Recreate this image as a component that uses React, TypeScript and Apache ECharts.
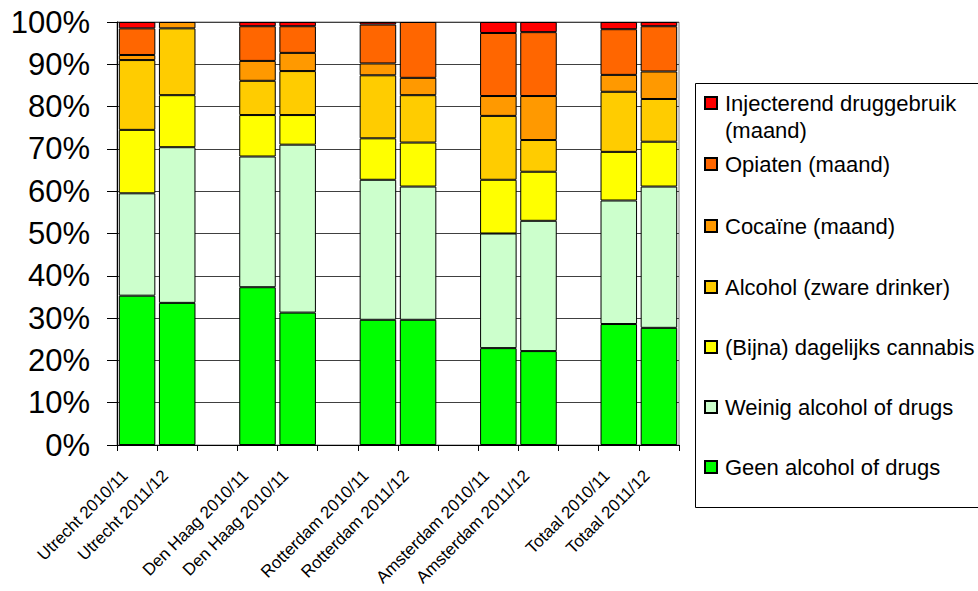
import React, { useEffect, useRef } from "react";
import * as echarts from "echarts";

const categories = [
  "Utrecht 2010/11", "Utrecht 2011/12", "",
  "Den Haag 2010/11", "Den Haag 2010/11", "",
  "Rotterdam 2010/11", "Rotterdam 2011/12", "",
  "Amsterdam 2010/11", "Amsterdam 2011/12", "",
  "Totaal 2010/11", "Totaal 2011/12",
];

const geen = [35.3, 33.6, null, 37.3, 31.3, null, 29.6, 29.6, null, 22.9, 22.2, null, 28.6, 27.7];
const weinig = [24.2, 36.8, null, 30.9, 39.7, null, 33.1, 31.5, null, 27.1, 30.8, null, 29.2, 33.4];
const cannabis = [15.0, 12.3, null, 9.8, 7.0, null, 9.8, 10.4, null, 12.7, 11.6, null, 11.5, 10.6];
const alcohol = [16.5, 15.8, null, 8.1, 10.4, null, 14.9, 11.2, null, 15.1, 7.5, null, 14.2, 10.1];
const cocaine = [1.2, 1.5, null, 4.7, 4.3, null, 2.8, 4.1, null, 4.7, 10.4, null, 4.0, 6.5];
const opiaten = [6.3, null, null, 8.2, 6.3, null, 9.2, 13.2, null, 14.9, 15.1, null, 10.8, 10.7];
const inject = [1.5, null, null, 1.0, 1.0, null, 0.6, null, null, 2.6, 2.4, null, 1.7, 1.0];

const seriesNames = [
  "Geen alcohol of drugs",
  "Weinig alcohol of drugs",
  "(Bijna) dagelijks cannabis",
  "Alcohol (zware drinker)",
  "Cocaïne (maand)",
  "Opiaten (maand)",
  "Injecterend druggebruik (maand)",
];
const seriesData = [geen, weinig, cannabis, alcohol, cocaine, opiaten, inject];
const seriesColors = ["#00FF00", "#CCFFCC", "#FFFF00", "#FFCC00", "#FF9900", "#FF6600", "#FF0000"];

const yTicks = [0, 10, 20, 30, 40, 50, 60, 70, 80, 90, 100];

const FONT = "'Liberation Sans', Arial, sans-serif";

export default function App() {
  const ref = useRef<HTMLDivElement>(null);
  useEffect(() => {
    if (!ref.current) return;
    const chart = echarts.init(ref.current, undefined, { renderer: "svg" });

    const legendOrder = [6, 5, 4, 3, 2, 1, 0];
    const legendCenters = [103, 164, 226, 287, 347, 407, 467];
    const legends = legendOrder.map((si, i) => {
      const isMulti = si === 6;
      return {
        show: true,
        data: [seriesNames[si]],
        left: 704,
        top: isMulti ? legendCenters[i] - 6 - 34.5 : legendCenters[i] - 11,
        padding: 0,
        itemWidth: 12,
        itemHeight: 12,
        icon: "rect",
        selectedMode: false,
        formatter: isMulti ? () => " \nInjecterend druggebruik\n(maand)" : undefined,
        textStyle: {
          fontFamily: FONT,
          fontSize: 22,
          color: "#000",
          lineHeight: isMulti ? 27 : 12,
          padding: [0, 0, 0, 3],
        },
      };
    });

    chart.setOption({
      animation: false,
      textStyle: { fontFamily: FONT },
      grid: {
        left: 117,
        right: 299,
        top: 22,
        bottom: 146,
        containLabel: false,
        outerBoundsMode: "none",
        show: true,
        borderColor: "#808080",
        borderWidth: 1,
        backgroundColor: "transparent",
      },
      legend: legends,
      graphic: [
        {
          type: "rect",
          shape: { x: 695.5, y: 83.5, width: 300, height: 424 },
          style: { fill: "none", stroke: "#000", lineWidth: 1 },
          silent: true,
        },
      ],
      xAxis: {
        type: "category",
        data: categories,
        boundaryGap: true,
        axisLine: { show: true, lineStyle: { color: "#000", width: 1 } },
        axisTick: { show: true, length: 6, alignWithLabel: false, interval: 0, lineStyle: { color: "#000" } },
        axisLabel: {
          interval: 0,
          rotate: 45,
          fontSize: 17,
          color: "#000",
          fontFamily: FONT,
          margin: 16,
          padding: [0, 17, 0, 0],
          hideOverlap: false,
        },
        splitLine: { show: false },
      },
      yAxis: {
        type: "value",
        min: 0,
        max: 100,
        interval: 10,
        axisLine: { show: true, lineStyle: { color: "#000", width: 1 } },
        axisTick: { show: true, length: 10, lineStyle: { color: "#000" } },
        axisLabel: {
          formatter: (v: number) => (yTicks.includes(v) ? `${v}%` : ""),
          fontSize: 31,
          color: "#000",
          fontFamily: FONT,
          margin: 27,
        },
        splitLine: { show: true, lineStyle: { color: "#404040", width: 1 } },
      },
      series: seriesData.map((d, i) => ({
        name: seriesNames[i],
        type: "bar",
        stack: "total",
        data: d,
        barCategoryGap: "9%",
        itemStyle: { color: seriesColors[i], borderColor: "#000", borderWidth: 1 },
        emphasis: { disabled: true },
      })),
    });
    return () => chart.dispose();
  }, []);
  return <div ref={ref} style={{ width: 978, height: 591, position: "absolute", left: 0, top: 0 }} />;
}
